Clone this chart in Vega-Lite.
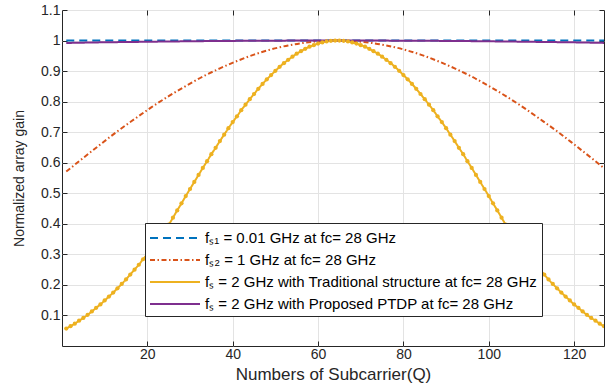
{
 "$schema": "https://vega.github.io/schema/vega-lite/v6.json",
 "width": 542,
 "height": 336,
 "autosize": {"type": "none"},
 "padding": {"left": 62, "top": 10, "right": 1, "bottom": 43},
 "background": "white",
 "data": {"values": [
  {"s":"a","Q":1,"G":1},{"s":"a","Q":128,"G":1},
  {"s":"b","Q":1,"G":0.571},{"s":"b","Q":5,"G":0.616},{"s":"b","Q":9,"G":0.660},{"s":"b","Q":13,"G":0.703},{"s":"b","Q":17,"G":0.743},{"s":"b","Q":21,"G":0.782},{"s":"b","Q":25,"G":0.818},{"s":"b","Q":29,"G":0.851},{"s":"b","Q":33,"G":0.882},{"s":"b","Q":37,"G":0.909},{"s":"b","Q":41,"G":0.933},{"s":"b","Q":45,"G":0.954},{"s":"b","Q":49,"G":0.971},{"s":"b","Q":53,"G":0.984},{"s":"b","Q":57,"G":0.993},{"s":"b","Q":61,"G":0.9985},{"s":"b","Q":64.5,"G":1.0},{"s":"b","Q":68,"G":0.9985},{"s":"b","Q":72,"G":0.993},{"s":"b","Q":76,"G":0.984},{"s":"b","Q":80,"G":0.971},{"s":"b","Q":84,"G":0.954},{"s":"b","Q":88,"G":0.933},{"s":"b","Q":92,"G":0.909},{"s":"b","Q":96,"G":0.882},{"s":"b","Q":100,"G":0.851},{"s":"b","Q":104,"G":0.818},{"s":"b","Q":108,"G":0.782},{"s":"b","Q":112,"G":0.743},{"s":"b","Q":116,"G":0.703},{"s":"b","Q":120,"G":0.660},{"s":"b","Q":124,"G":0.616},{"s":"b","Q":128,"G":0.571},
  {"s":"c","Q":1,"G":0.057},{"s":"c","Q":2,"G":0.065},{"s":"c","Q":3,"G":0.073},{"s":"c","Q":4,"G":0.083},{"s":"c","Q":5,"G":0.092},{"s":"c","Q":6,"G":0.102},{"s":"c","Q":7,"G":0.113},{"s":"c","Q":8,"G":0.125},{"s":"c","Q":9,"G":0.136},{"s":"c","Q":10,"G":0.149},
  {"s":"c","Q":11,"G":0.162},{"s":"c","Q":12,"G":0.175},{"s":"c","Q":13,"G":0.189},{"s":"c","Q":14,"G":0.203},{"s":"c","Q":15,"G":0.218},{"s":"c","Q":16,"G":0.234},{"s":"c","Q":17,"G":0.250},{"s":"c","Q":18,"G":0.266},{"s":"c","Q":19,"G":0.284},{"s":"c","Q":20,"G":0.301},
  {"s":"c","Q":21,"G":0.319},{"s":"c","Q":22,"G":0.338},{"s":"c","Q":23,"G":0.357},{"s":"c","Q":24,"G":0.377},{"s":"c","Q":25,"G":0.397},{"s":"c","Q":26,"G":0.420},{"s":"c","Q":27,"G":0.444},{"s":"c","Q":28,"G":0.467},{"s":"c","Q":29,"G":0.491},{"s":"c","Q":30,"G":0.514},
  {"s":"c","Q":31,"G":0.537},{"s":"c","Q":32,"G":0.560},{"s":"c","Q":33,"G":0.583},{"s":"c","Q":34,"G":0.605},{"s":"c","Q":35,"G":0.628},{"s":"c","Q":36,"G":0.649},{"s":"c","Q":37,"G":0.671},{"s":"c","Q":38,"G":0.692},{"s":"c","Q":39,"G":0.713},{"s":"c","Q":40,"G":0.733},
  {"s":"c","Q":41,"G":0.752},{"s":"c","Q":42,"G":0.772},{"s":"c","Q":43,"G":0.790},{"s":"c","Q":44,"G":0.808},{"s":"c","Q":45,"G":0.825},{"s":"c","Q":46,"G":0.842},{"s":"c","Q":47,"G":0.858},{"s":"c","Q":48,"G":0.873},{"s":"c","Q":49,"G":0.887},{"s":"c","Q":50,"G":0.901},
  {"s":"c","Q":51,"G":0.914},{"s":"c","Q":52,"G":0.926},{"s":"c","Q":53,"G":0.937},{"s":"c","Q":54,"G":0.947},{"s":"c","Q":55,"G":0.957},{"s":"c","Q":56,"G":0.965},{"s":"c","Q":57,"G":0.973},{"s":"c","Q":58,"G":0.980},{"s":"c","Q":59,"G":0.985},{"s":"c","Q":60,"G":0.990},
  {"s":"c","Q":61,"G":0.994},{"s":"c","Q":62,"G":0.997},{"s":"c","Q":63,"G":0.999},{"s":"c","Q":64,"G":1.000},{"s":"c","Q":65,"G":1.000},{"s":"c","Q":66,"G":0.999},{"s":"c","Q":67,"G":0.997},{"s":"c","Q":68,"G":0.994},{"s":"c","Q":69,"G":0.990},{"s":"c","Q":70,"G":0.985},
  {"s":"c","Q":71,"G":0.980},{"s":"c","Q":72,"G":0.973},{"s":"c","Q":73,"G":0.965},{"s":"c","Q":74,"G":0.957},{"s":"c","Q":75,"G":0.947},{"s":"c","Q":76,"G":0.937},{"s":"c","Q":77,"G":0.926},{"s":"c","Q":78,"G":0.914},{"s":"c","Q":79,"G":0.901},{"s":"c","Q":80,"G":0.887},
  {"s":"c","Q":81,"G":0.873},{"s":"c","Q":82,"G":0.858},{"s":"c","Q":83,"G":0.842},{"s":"c","Q":84,"G":0.825},{"s":"c","Q":85,"G":0.808},{"s":"c","Q":86,"G":0.790},{"s":"c","Q":87,"G":0.772},{"s":"c","Q":88,"G":0.752},{"s":"c","Q":89,"G":0.733},{"s":"c","Q":90,"G":0.713},
  {"s":"c","Q":91,"G":0.692},{"s":"c","Q":92,"G":0.671},{"s":"c","Q":93,"G":0.649},{"s":"c","Q":94,"G":0.628},{"s":"c","Q":95,"G":0.605},{"s":"c","Q":96,"G":0.583},{"s":"c","Q":97,"G":0.560},{"s":"c","Q":98,"G":0.537},{"s":"c","Q":99,"G":0.514},{"s":"c","Q":100,"G":0.491},
  {"s":"c","Q":101,"G":0.467},{"s":"c","Q":102,"G":0.444},{"s":"c","Q":103,"G":0.420},{"s":"c","Q":104,"G":0.397},{"s":"c","Q":105,"G":0.377},{"s":"c","Q":106,"G":0.357},{"s":"c","Q":107,"G":0.338},{"s":"c","Q":108,"G":0.319},{"s":"c","Q":109,"G":0.301},{"s":"c","Q":110,"G":0.284},
  {"s":"c","Q":111,"G":0.266},{"s":"c","Q":112,"G":0.250},{"s":"c","Q":113,"G":0.234},{"s":"c","Q":114,"G":0.218},{"s":"c","Q":115,"G":0.203},{"s":"c","Q":116,"G":0.189},{"s":"c","Q":117,"G":0.175},{"s":"c","Q":118,"G":0.162},{"s":"c","Q":119,"G":0.149},{"s":"c","Q":120,"G":0.136},
  {"s":"c","Q":121,"G":0.125},{"s":"c","Q":122,"G":0.113},{"s":"c","Q":123,"G":0.102},{"s":"c","Q":124,"G":0.092},{"s":"c","Q":125,"G":0.083},{"s":"c","Q":126,"G":0.073},{"s":"c","Q":127,"G":0.065},{"s":"c","Q":128,"G":0.057},
  {"s":"d","Q":1,"G":0.992},{"s":"d","Q":8.5,"G":0.994},{"s":"d","Q":16.5,"G":0.9954},{"s":"d","Q":24.5,"G":0.9968},{"s":"d","Q":32.5,"G":0.998},{"s":"d","Q":40.5,"G":0.9989},{"s":"d","Q":48.5,"G":0.9995},{"s":"d","Q":56.5,"G":0.9999},{"s":"d","Q":64.5,"G":1.0},{"s":"d","Q":72.5,"G":0.9999},{"s":"d","Q":80.5,"G":0.9995},{"s":"d","Q":88.5,"G":0.9989},{"s":"d","Q":96.5,"G":0.998},{"s":"d","Q":104.5,"G":0.9968},{"s":"d","Q":112.5,"G":0.9954},{"s":"d","Q":120.5,"G":0.994},{"s":"d","Q":128,"G":0.992}
 ]},
 "layer": [
  {
   "mark": {"type": "line", "clip": true, "interpolate": "monotone", "strokeWidth": 2},
   "encoding": {
    "x": {"field": "Q", "type": "quantitative",
          "scale": {"domain": [0, 127], "nice": false, "zero": false},
          "axis": {"values": [20, 40, 60, 80, 100, 120], "title": "Numbers of Subcarrier(Q)", "grid": true, "domain": false, "tickSize": -5, "labelPadding": 6, "titlePadding": 5, "labelFontSize": 14, "titleFontSize": 17}},
    "y": {"field": "G", "type": "quantitative",
          "scale": {"domain": [0, 1.1], "nice": false, "zero": false},
          "axis": {"values": [0.1, 0.2, 0.3, 0.4, 0.5, 0.6, 0.7, 0.8, 0.9, 1, 1.1], "format": "~g", "title": "Normalized array gain", "grid": true, "domain": false, "tickSize": -5, "labelPadding": 7, "titlePadding": 14, "labelFontSize": 14, "titleFontSize": 14}},
    "color": {"field": "s", "type": "nominal",
              "scale": {"domain": ["a", "b", "c", "d"], "range": ["#0072BD", "#D95319", "#EDB120", "#7E2F8E"]},
              "legend": {"title": null, "orient": "none", "legendX": 83, "legendY": 213,
                         "labelExpr": "datum.label == 'a' ? 'fₛ₁ = 0.01 GHz at fc= 28 GHz' : datum.label == 'b' ? 'fₛ₂ = 1 GHz at fc= 28 GHz' : datum.label == 'c' ? 'fₛ = 2 GHz with Traditional structure at fc= 28 GHz' : 'fₛ = 2 GHz with Proposed PTDP at fc= 28 GHz'"}},
    "strokeDash": {"field": "s", "type": "nominal",
              "scale": {"domain": ["a", "b", "c", "d"], "range": [[8, 5], [5, 2.5, 1.5, 2.5], [1, 0], [1, 0]]},
              "legend": {"title": null, "orient": "none", "legendX": 83, "legendY": 213,
                         "labelExpr": "datum.label == 'a' ? 'fₛ₁ = 0.01 GHz at fc= 28 GHz' : datum.label == 'b' ? 'fₛ₂ = 1 GHz at fc= 28 GHz' : datum.label == 'c' ? 'fₛ = 2 GHz with Traditional structure at fc= 28 GHz' : 'fₛ = 2 GHz with Proposed PTDP at fc= 28 GHz'"}}
   }
  },
  {
   "transform": [{"filter": "datum.s == 'c'"}],
   "mark": {"type": "point", "filled": true, "clip": true, "size": 18, "color": "#EDB120", "opacity": 1},
   "encoding": {
    "x": {"field": "Q", "type": "quantitative",
          "axis": {"orient": "top", "values": [20, 40, 60, 80, 100, 120], "labels": false, "grid": false, "domain": false, "title": null, "tickSize": -5}},
    "y": {"field": "G", "type": "quantitative",
          "axis": {"orient": "right", "values": [0.1, 0.2, 0.3, 0.4, 0.5, 0.6, 0.7, 0.8, 0.9, 1, 1.1], "labels": false, "grid": false, "domain": false, "title": null, "tickSize": -5}}
   }
  }
 ],
 "resolve": {"axis": {"x": "independent", "y": "independent"}},
 "config": {
  "view": {"stroke": "#262626", "strokeWidth": 1},
  "font": "Liberation Sans",
  "axis": {"labelFont": "Liberation Sans", "titleFont": "Liberation Sans", "labelColor": "#262626", "titleColor": "#262626", "titleFontWeight": "normal", "gridColor": "#e3e3e3", "gridWidth": 1, "tickColor": "#262626", "tickWidth": 1},
  "legend": {"fillColor": "white", "strokeColor": "#262626", "padding": 4, "labelFont": "Liberation Sans", "labelFontSize": 15, "labelColor": "#000000", "labelLimit": 500, "symbolType": "M-2.5,0L2.5,0", "symbolSize": 400, "symbolOffset": 15, "symbolStrokeWidth": 2, "rowPadding": 3, "labelOffset": 19}
 }
}
